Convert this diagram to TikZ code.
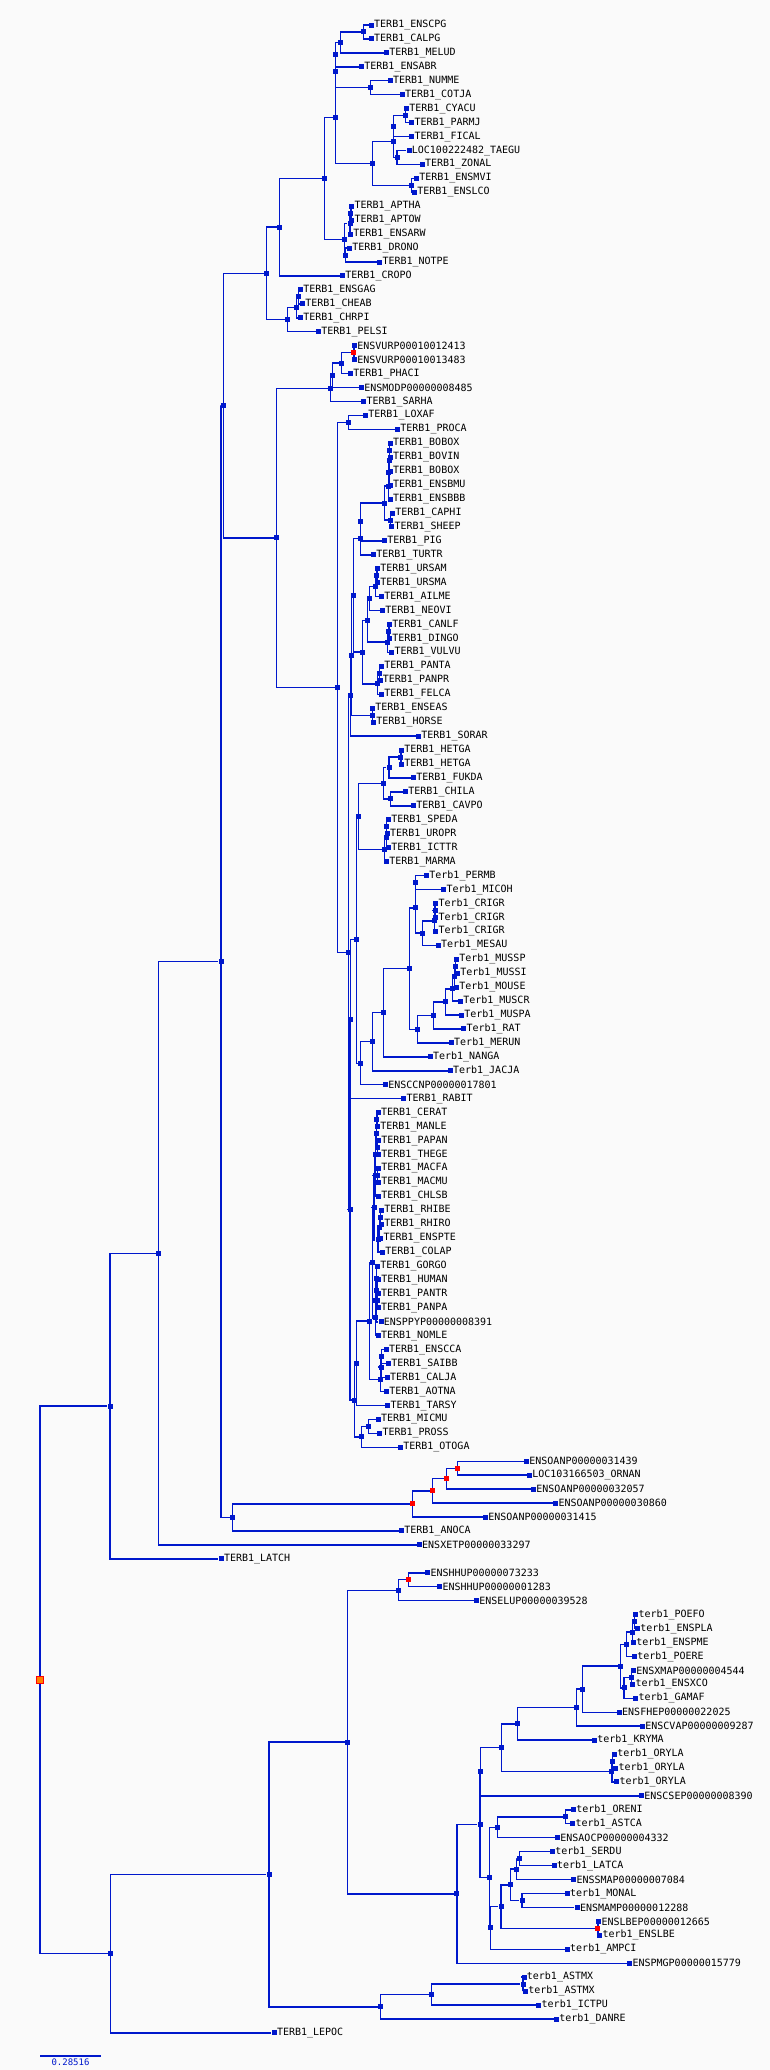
\documentclass[tikz,border=0pt]{standalone}
\usepackage{fontspec}
\newfontfamily\treefont{DejaVu Sans Mono}
\usetikzlibrary{calc}
\definecolor{treeblue}{RGB}{0,24,204}
\definecolor{bggray}{RGB}{250,250,250}
\definecolor{dupred}{RGB}{255,0,0}
\definecolor{rootorange}{RGB}{255,128,0}
\tikzstyle{treeline} = [draw=treeblue, line width=1.4pt]
\tikzstyle{leaf} = [rectangle, fill=treeblue, inner sep=0pt, minimum size=5pt, label distance=4.5pt]
\tikzstyle{leaftext} = [inner sep=0pt, font=\treefont\fontsize{10}{10}\selectfont]
\tikzstyle{inode} = [rectangle, fill=treeblue, inner sep=0pt, minimum size=5pt]
\tikzstyle{dupnode} = [rectangle, fill=dupred, inner sep=0pt, minimum size=5pt]
\tikzstyle{rootnode} = [rectangle, fill=rootorange, draw=dupred, line width=0.8pt, inner sep=0pt, minimum size=6.5pt]

% leaf: name, x, row, label
\newcommand{\tleaf}[4]{\node[leaf, label={[leaftext]right:#4}] (#1) at (#2,{25+(#3-1)*13.944}) {};}
% inner node: [style] name, x, child, child
\newcommand{\tnode}[5][inode]{%
  \path let \p1=($(#4)!0.5!(#5)$) in coordinate (#2c) at (#3,\y1);%
  \draw[treeline] (#2c) |- (#4);%
  \draw[treeline] (#2c) |- (#5);%
  \node[#1] (#2) at (#2c) {};}

\begin{document}
\begin{tikzpicture}[x=1pt, y=-1pt]
\fill[bggray] (0,0) rectangle (770,2070);
\useasboundingbox (0,0) rectangle (770,2070);

% birds and turtles
\tleaf{enscpg}{371.3}{1}{TERB1\_ENSCPG}
\tleaf{calpg}{371.3}{2}{TERB1\_CALPG}
\tleaf{melud}{386.5}{3}{TERB1\_MELUD}
\tleaf{ensabr}{361.5}{4}{TERB1\_ENSABR}
\tleaf{numme}{390.2}{5}{TERB1\_NUMME}
\tleaf{cotja}{402.2}{6}{TERB1\_COTJA}
\tleaf{cyacu}{406.5}{7}{TERB1\_CYACU}
\tleaf{parmj}{411.6}{8}{TERB1\_PARMJ}
\tleaf{fical}{411.6}{9}{TERB1\_FICAL}
\tleaf{taegu}{409}{10}{LOC100222482\_TAEGU}
\tleaf{zonal}{422.2}{11}{TERB1\_ZONAL}
\tleaf{ensmvi}{416.4}{12}{TERB1\_ENSMVI}
\tleaf{enslco}{414.5}{13}{TERB1\_ENSLCO}
\tleaf{aptha}{351.6}{14}{TERB1\_APTHA}
\tleaf{aptow}{351.6}{15}{TERB1\_APTOW}
\tleaf{ensarw}{350.5}{16}{TERB1\_ENSARW}
\tleaf{drono}{349.5}{17}{TERB1\_DRONO}
\tleaf{notpe}{379.6}{18}{TERB1\_NOTPE}
\tleaf{cropo}{342.5}{19}{TERB1\_CROPO}
\tleaf{ensgag}{300.4}{20}{TERB1\_ENSGAG}
\tleaf{cheab}{302.5}{21}{TERB1\_CHEAB}
\tleaf{chrpi}{300.4}{22}{TERB1\_CHRPI}
\tleaf{pelsi}{318.5}{23}{TERB1\_PELSI}

% marsupials
\tleaf{vurpa}{354.5}{24}{ENSVURP00010012413}
\tleaf{vurpb}{354.5}{25}{ENSVURP00010013483}
\tleaf{phaci}{350.5}{26}{TERB1\_PHACI}
\tleaf{ensmodp}{361.5}{27}{ENSMODP00000008485}
\tleaf{sarha}{363.6}{28}{TERB1\_SARHA}

% placentals
\tleaf{loxaf}{365.5}{29}{TERB1\_LOXAF}
\tleaf{proca}{397.5}{30}{TERB1\_PROCA}
\tleaf{boboxa}{390.2}{31}{TERB1\_BOBOX}
\tleaf{bovin}{390.2}{32}{TERB1\_BOVIN}
\tleaf{boboxb}{390.2}{33}{TERB1\_BOBOX}
\tleaf{ensbmu}{390.2}{34}{TERB1\_ENSBMU}
\tleaf{ensbbb}{390.2}{35}{TERB1\_ENSBBB}
\tleaf{caphi}{392.4}{36}{TERB1\_CAPHI}
\tleaf{sheep}{391.6}{37}{TERB1\_SHEEP}
\tleaf{pig}{384.5}{38}{TERB1\_PIG}
\tleaf{turtr}{373.5}{39}{TERB1\_TURTR}
\tleaf{ursam}{377.5}{40}{TERB1\_URSAM}
\tleaf{ursma}{377.5}{41}{TERB1\_URSMA}
\tleaf{ailme}{381.5}{42}{TERB1\_AILME}
\tleaf{neovi}{382.5}{43}{TERB1\_NEOVI}
\tleaf{canlf}{389.5}{44}{TERB1\_CANLF}
\tleaf{dingo}{389.5}{45}{TERB1\_DINGO}
\tleaf{vulvu}{391.6}{46}{TERB1\_VULVU}
\tleaf{panta}{381.5}{47}{TERB1\_PANTA}
\tleaf{panpr}{380}{48}{TERB1\_PANPR}
\tleaf{felca}{381.5}{49}{TERB1\_FELCA}
\tleaf{enseas}{372.4}{50}{TERB1\_ENSEAS}
\tleaf{horse}{373.5}{51}{TERB1\_HORSE}
\tleaf{sorar}{418.5}{52}{TERB1\_SORAR}
\tleaf{hetgaa}{401.5}{53}{TERB1\_HETGA}
\tleaf{hetgab}{401.5}{54}{TERB1\_HETGA}
\tleaf{fukda}{413.5}{55}{TERB1\_FUKDA}
\tleaf{chila}{405.5}{56}{TERB1\_CHILA}
\tleaf{cavpo}{413.5}{57}{TERB1\_CAVPO}
\tleaf{speda}{388.4}{58}{TERB1\_SPEDA}
\tleaf{uropr}{387.3}{59}{TERB1\_UROPR}
\tleaf{ictt}{388.4}{60}{TERB1\_ICTTR}
\tleaf{marma}{386.5}{61}{TERB1\_MARMA}
\tleaf{permb}{426.5}{62}{Terb1\_PERMB}
\tleaf{micoh}{443.6}{63}{Terb1\_MICOH}
\tleaf{crigra}{435.6}{64}{Terb1\_CRIGR}
\tleaf{crigrb}{435.6}{65}{Terb1\_CRIGR}
\tleaf{crigrc}{435.6}{66}{Terb1\_CRIGR}
\tleaf{mesau}{438.2}{67}{Terb1\_MESAU}
\tleaf{mussp}{456.4}{68}{Terb1\_MUSSP}
\tleaf{mussi}{457.5}{69}{Terb1\_MUSSI}
\tleaf{mouse}{456.4}{70}{Terb1\_MOUSE}
\tleaf{muscr}{460.4}{71}{Terb1\_MUSCR}
\tleaf{muspa}{461.5}{72}{Terb1\_MUSPA}
\tleaf{rat}{463.6}{73}{Terb1\_RAT}
\tleaf{merun}{451.3}{74}{Terb1\_MERUN}
\tleaf{nanga}{430.2}{75}{Terb1\_NANGA}
\tleaf{jacja}{450.2}{76}{Terb1\_JACJA}
\tleaf{ensccnp}{385.5}{77}{ENSCCNP00000017801}
\tleaf{rabit}{403.6}{78}{TERB1\_RABIT}
\tleaf{cerat}{378.2}{79}{TERB1\_CERAT}
\tleaf{manle}{377.5}{80}{TERB1\_MANLE}
\tleaf{papan}{378.5}{81}{TERB1\_PAPAN}
\tleaf{thege}{378.5}{82}{TERB1\_THEGE}
\tleaf{macfa}{378.5}{83}{TERB1\_MACFA}
\tleaf{macmu}{378.5}{84}{TERB1\_MACMU}
\tleaf{chlsb}{378.5}{85}{TERB1\_CHLSB}
\tleaf{rhibe}{381.5}{86}{TERB1\_RHIBE}
\tleaf{rhiro}{381.5}{87}{TERB1\_RHIRO}
\tleaf{enspte}{380.7}{88}{TERB1\_ENSPTE}
\tleaf{colap}{382.5}{89}{TERB1\_COLAP}
\tleaf{gorgo}{377.5}{90}{TERB1\_GORGO}
\tleaf{human}{378.5}{91}{TERB1\_HUMAN}
\tleaf{pantr}{378.2}{92}{TERB1\_PANTR}
\tleaf{panpa}{378.2}{93}{TERB1\_PANPA}
\tleaf{ensppyp}{381}{94}{ENSPPYP00000008391}
\tleaf{nomle}{378.2}{95}{TERB1\_NOMLE}
\tleaf{ensscca}{386.2}{96}{TERB1\_ENSCCA}
\tleaf{saibb}{388.4}{97}{TERB1\_SAIBB}
\tleaf{calja}{387.3}{98}{TERB1\_CALJA}
\tleaf{aotna}{386.5}{99}{TERB1\_AOTNA}
\tleaf{tarsy}{387.6}{100}{TERB1\_TARSY}
\tleaf{micmu}{378.2}{101}{TERB1\_MICMU}
\tleaf{pross}{379.6}{102}{TERB1\_PROSS}
\tleaf{otoga}{400.4}{103}{TERB1\_OTOGA}

% monotremes, lizard, frog, coelacanth
\tleaf{oana}{526.5}{104}{ENSOANP00000031439}
\tleaf{ornan}{529.5}{105}{LOC103166503\_ORNAN}
\tleaf{oanb}{533.5}{106}{ENSOANP00000032057}
\tleaf{oanc}{555.6}{107}{ENSOANP00000030860}
\tleaf{oand}{485.5}{108}{ENSOANP00000031415}
\tleaf{anoca}{401.5}{109}{TERB1\_ANOCA}
\tleaf{xetp}{419.3}{110}{ENSXETP00000033297}
\tleaf{latch}{221.1}{111}{TERB1\_LATCH}

% ray-finned fish
\tleaf{hhupa}{427.6}{112}{ENSHHUP00000073233}
\tleaf{hhupb}{439.6}{113}{ENSHHUP00000001283}
\tleaf{elup}{476.4}{114}{ENSELUP00000039528}
\tleaf{poefo}{635.6}{115}{terb1\_POEFO}
\tleaf{enspla}{637.5}{116}{terb1\_ENSPLA}
\tleaf{enspme}{633.5}{117}{terb1\_ENSPME}
\tleaf{poere}{634.5}{118}{terb1\_POERE}
\tleaf{xmap}{633.5}{119}{ENSXMAP00000004544}
\tleaf{ensxco}{632.7}{120}{terb1\_ENSXCO}
\tleaf{gamaf}{635.6}{121}{terb1\_GAMAF}
\tleaf{fhep}{619.3}{122}{ENSFHEP00000022025}
\tleaf{cvap}{642.5}{123}{ENSCVAP00000009287}
\tleaf{kryma}{594.5}{124}{terb1\_KRYMA}
\tleaf{orylaa}{614.5}{125}{terb1\_ORYLA}
\tleaf{orylab}{615.6}{126}{terb1\_ORYLA}
\tleaf{orylac}{616.7}{127}{terb1\_ORYLA}
\tleaf{csep}{641.5}{128}{ENSCSEP00000008390}
\tleaf{oreni}{573.5}{129}{terb1\_ORENI}
\tleaf{astca}{572.7}{130}{terb1\_ASTCA}
\tleaf{aocp}{557.5}{131}{ENSAOCP00000004332}
\tleaf{serdu}{552.4}{132}{terb1\_SERDU}
\tleaf{latca}{554.2}{133}{terb1\_LATCA}
\tleaf{smap}{573.7}{134}{ENSSMAP00000007084}
\tleaf{monal}{567.3}{135}{terb1\_MONAL}
\tleaf{mamp}{577.1}{136}{ENSMAMP00000012288}
\tleaf{lbep}{598.7}{137}{ENSLBEP00000012665}
\tleaf{enslbe}{599.7}{138}{terb1\_ENSLBE}
\tleaf{ampci}{567.3}{139}{terb1\_AMPCI}
\tleaf{pmgp}{629.7}{140}{ENSPMGP00000015779}
\tleaf{astmxa}{524}{141}{terb1\_ASTMX}
\tleaf{astmxb}{525.5}{142}{terb1\_ASTMX}
\tleaf{ictpu}{538.8}{143}{terb1\_ICTPU}
\tleaf{danre}{556.5}{144}{terb1\_DANRE}
\tleaf{lepoc}{274.1}{145}{TERB1\_LEPOC}

% inner nodes, children first
\tnode{nbA}{363.6}{enscpg}{calpg}
\tnode{nbB}{340.4}{nbA}{melud}
\tnode{nbC}{335.3}{nbB}{ensabr}
\tnode{nbD}{370.5}{numme}{cotja}
\tnode{nbE}{335.3}{nbC}{nbD}
\tnode{nbF}{405.5}{cyacu}{parmj}
\tnode{nbG}{393.5}{nbF}{fical}
\tnode{nbH}{397}{taegu}{zonal}
\tnode{nbI}{393.5}{nbG}{nbH}
\tnode{nbJ}{411.6}{ensmvi}{enslco}
\tnode{nbK}{372.4}{nbI}{nbJ}
\tnode{nbL}{335.3}{nbE}{nbK}
\tnode{ratA}{350.8}{aptha}{aptow}
\tnode{ratB}{350}{ratA}{ensarw}
\tnode{ratC}{345.5}{drono}{notpe}
\tnode{ratD}{344.4}{ratB}{ratC}
\tnode{nbM}{324.4}{nbL}{ratD}
\tnode{birds}{279.3}{nbM}{cropo}
\tnode{trtA}{298.2}{ensgag}{cheab}
\tnode{trtB}{296.4}{trtA}{chrpi}
\tnode{trtC}{287.3}{trtB}{pelsi}
\tnode{archo}{266.5}{birds}{trtC}

\tnode[dupnode]{marA}{353.8}{vurpa}{vurpb}
\tnode{marB}{341.5}{marA}{phaci}
\tnode{marC}{332.4}{marB}{ensmodp}
\tnode{marD}{330.2}{marC}{sarha}

\tnode{afro}{348.4}{loxaf}{proca}
\tnode{bovA}{389.6}{boboxa}{bovin}
\tnode{bovB}{389.2}{bovA}{boboxb}
\tnode{bovC}{388.8}{bovB}{ensbmu}
\tnode{bovD}{388.4}{bovC}{ensbbb}
\tnode{capr}{390.2}{caphi}{sheep}
\tnode{bovE}{384.4}{bovD}{capr}
\tnode{cetA}{360.4}{bovE}{pig}
\tnode{cetB}{360.4}{cetA}{turtr}
\tnode{carA}{376.8}{ursam}{ursma}
\tnode{carB}{375.6}{carA}{ailme}
\tnode{carC}{369.5}{carB}{neovi}
\tnode{canA}{388.8}{canlf}{dingo}
\tnode{canB}{387.6}{canA}{vulvu}
\tnode{carD}{367.3}{carC}{canB}
\tnode{felA}{379.6}{panta}{panpr}
\tnode{felB}{377.5}{felA}{felca}
\tnode{carE}{362.5}{carD}{felB}
\tnode{lauA}{353.5}{cetB}{carE}
\tnode{equ}{372.4}{enseas}{horse}
\tnode{lauB}{351.6}{lauA}{equ}
\tnode{lauC}{350.5}{lauB}{sorar}

\tnode{rodA}{400.8}{hetgaa}{hetgab}
\tnode{rodB}{389}{rodA}{fukda}
\tnode{rodC}{390.2}{chila}{cavpo}
\tnode{rodD}{383.6}{rodB}{rodC}
\tnode{sciA}{386.5}{speda}{uropr}
\tnode{sciB}{386.2}{sciA}{ictt}
\tnode{sciC}{384.7}{sciB}{marma}
\tnode{rodE}{358.5}{rodD}{sciC}
\tnode{myoA}{415.6}{permb}{micoh}
\tnode{criA}{435}{crigra}{crigrb}
\tnode{criB}{434.5}{criA}{crigrc}
\tnode{criC}{422.5}{criB}{mesau}
\tnode{myoB}{415.6}{myoA}{criC}
\tnode{murA}{455.6}{mussp}{mussi}
\tnode{murB}{454.2}{murA}{mouse}
\tnode{murC}{452.4}{murB}{muscr}
\tnode{murD}{445.5}{murC}{muspa}
\tnode{murE}{433.5}{murD}{rat}
\tnode{murF}{417.5}{murE}{merun}
\tnode{myoC}{409.5}{myoB}{murF}
\tnode{myoD}{383.6}{myoC}{nanga}
\tnode{myoE}{372.4}{myoD}{jacja}
\tnode{myoF}{360.4}{myoE}{ensccnp}
\tnode{rodF}{356.4}{rodE}{myoF}
\tnode{glires}{350.5}{rodF}{rabit}

\tnode{cerA}{376.8}{cerat}{manle}
\tnode{cerB}{377.6}{papan}{thege}
\tnode{cerC}{376.2}{cerA}{cerB}
\tnode{cerD}{377.6}{macfa}{macmu}
\tnode{cerE}{375.6}{cerC}{cerD}
\tnode{cerF}{375}{cerE}{chlsb}
\tnode{colA}{380.6}{rhibe}{rhiro}
\tnode{colB}{379.4}{colA}{enspte}
\tnode{colC}{378}{colB}{colap}
\tnode{cerG}{374}{cerF}{colC}
\tnode{homA}{377.4}{pantr}{panpa}
\tnode{homB}{376.9}{human}{homA}
\tnode{homC}{376.4}{gorgo}{homB}
\tnode{homD}{375.9}{homC}{ensppyp}
\tnode{homE}{375.4}{homD}{nomle}
\tnode{catar}{372.4}{cerG}{homE}
\tnode{nwmA}{381.5}{ensscca}{saibb}
\tnode{nwmB}{381}{nwmA}{calja}
\tnode{nwmC}{380.4}{nwmB}{aotna}
\tnode{anthr}{369.5}{catar}{nwmC}
\tnode{haplo}{356.4}{anthr}{tarsy}
\tnode{strA}{368.4}{micmu}{pross}
\tnode{strB}{361.5}{strA}{otoga}
\tnode{prim}{354.2}{haplo}{strB}
\tnode{euarch}{350}{glires}{prim}
\tnode{boreo}{348.4}{lauC}{euarch}
\tnode{euth}{337.5}{afro}{boreo}
\tnode{mamm}{276.4}{marD}{euth}
\tnode{amnA}{223.6}{archo}{mamm}

\tnode[dupnode]{monA}{457.5}{oana}{ornan}
\tnode[dupnode]{monB}{446.5}{monA}{oanb}
\tnode[dupnode]{monC}{432.4}{monB}{oanc}
\tnode[dupnode]{monD}{412.4}{monC}{oand}
\tnode{amnB}{232.4}{monD}{anoca}
\tnode{amnC}{221.1}{amnA}{amnB}
\tnode{tetra}{158.5}{amnC}{xetp}
\tnode{sarco}{110}{tetra}{latch}

\tnode[dupnode]{salA}{408.4}{hhupa}{hhupb}
\tnode{salB}{398.5}{salA}{elup}
\tnode{poeA}{634.5}{poefo}{enspla}
\tnode{poeB}{632.4}{poeA}{enspme}
\tnode{poeC}{626.2}{poeB}{poere}
\tnode{xipA}{631.3}{xmap}{ensxco}
\tnode{xipB}{624}{xipA}{gamaf}
\tnode{cypA}{620.7}{poeC}{xipB}
\tnode{cypB}{582.5}{cypA}{fhep}
\tnode{cypC}{576.7}{cypB}{cvap}
\tnode{cypD}{517.5}{cypC}{kryma}
\tnode{oryA}{612.4}{orylaa}{orylab}
\tnode{oryB}{611.8}{oryA}{orylac}
\tnode{athA}{501.5}{cypD}{oryB}
\tnode{athB}{480.4}{athA}{csep}
\tnode{cicA}{565.5}{oreni}{astca}
\tnode{cicB}{497.5}{cicA}{aocp}
\tnode{carnA}{519.3}{serdu}{latca}
\tnode{carnB}{516.7}{carnA}{smap}
\tnode{carnC}{522.1}{monal}{mamp}
\tnode{carnD}{510.3}{carnB}{carnC}
\tnode[dupnode]{lbe}{597.8}{lbep}{enslbe}
\tnode{carnE}{501}{carnD}{lbe}
\tnode{carnF}{490.2}{carnE}{ampci}
\tnode{ovaA}{489.5}{cicB}{carnF}
\tnode{percA}{480}{athB}{ovaA}
\tnode{percB}{456.8}{percA}{pmgp}
\tnode{eutel}{347.3}{salB}{percB}
\tnode{otoA}{523}{astmxa}{astmxb}
\tnode{otoB}{431.2}{otoA}{ictpu}
\tnode{otoC}{380.6}{otoB}{danre}
\tnode{teleo}{269.1}{eutel}{otoC}
\tnode{actin}{110.5}{teleo}{lepoc}
\tnode[rootnode]{root}{39.8}{sarco}{actin}

% scale bar
\coordinate (sbl) at (40,2056);
\coordinate (sbr) at (101,2056);
\draw[treeline, line width=2pt] (sbl) -- (sbr)
  node[midway, below=2pt, inner sep=0pt, text=treeblue, font=\treefont\fontsize{9}{9}\selectfont] (sbtext) {0.28516};
\end{tikzpicture}
\end{document}
